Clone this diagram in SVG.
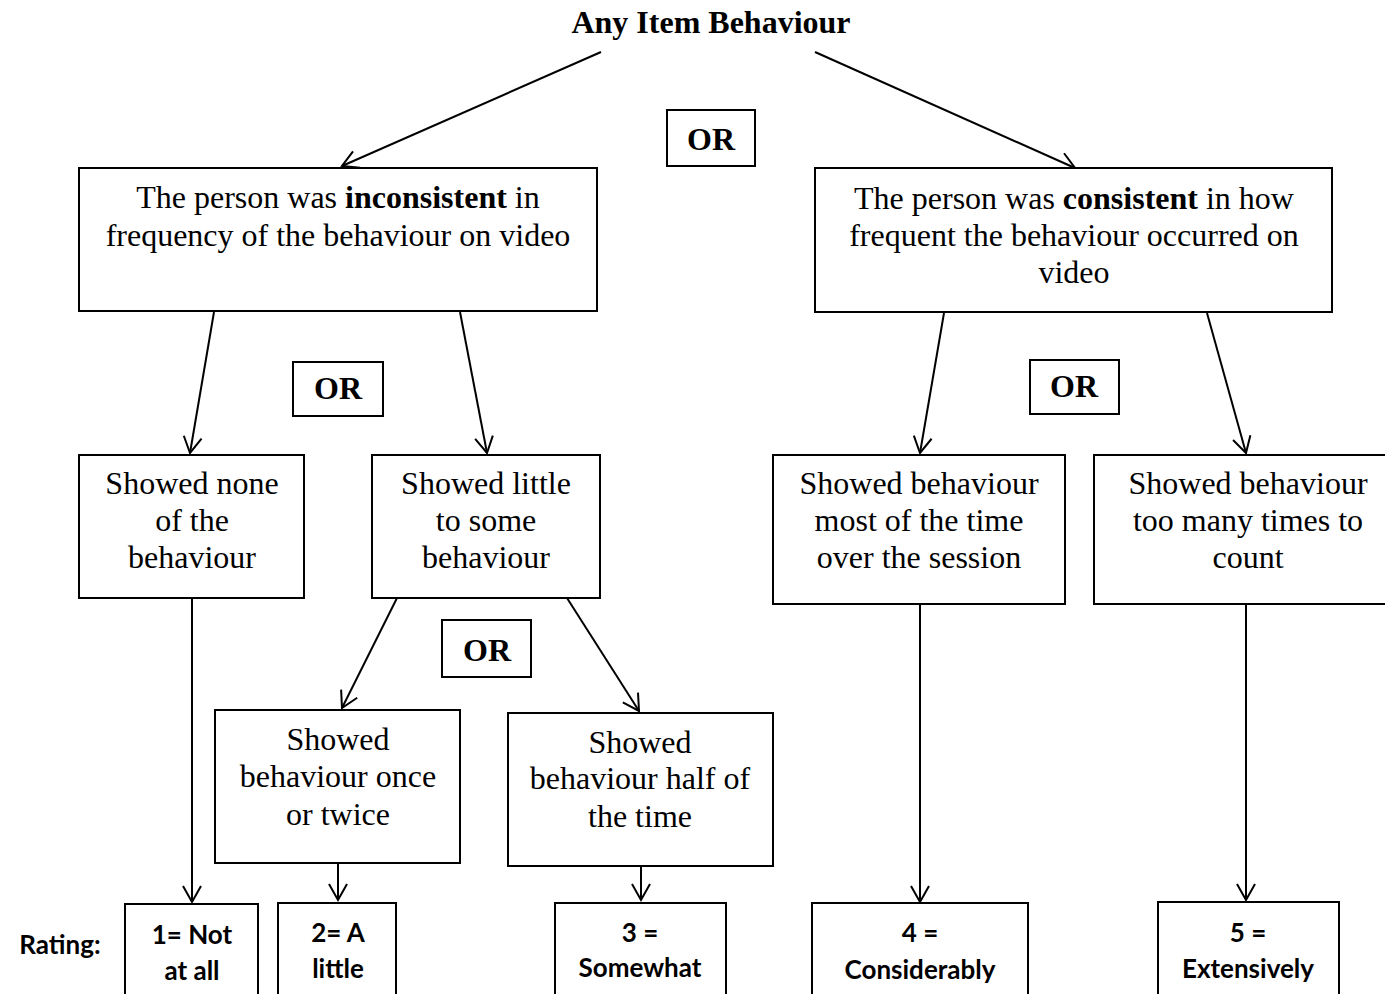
<svg xmlns="http://www.w3.org/2000/svg" width="1385" height="994" viewBox="0 0 1385 994">
  <style>
    .box { fill: #fff; stroke: #000; stroke-width: 2; }
    .t { font-family: "Liberation Serif", "Times New Roman", serif; font-size: 32px; fill: #000; text-anchor: middle; }
    .b { font-weight: bold; }
    .r { font-family: Lato, "Liberation Sans", sans-serif; font-weight: bold; font-size: 26px; fill: #000; text-anchor: middle; }
    .edge { stroke: #000; stroke-width: 2; fill: none; marker-end: url(#arrow); }
  </style>
  <defs>
    <marker id="arrow" markerUnits="userSpaceOnUse" markerWidth="40" markerHeight="40" refX="0" refY="0" viewBox="-20 -20 40 40" orient="auto">
      <path d="M-16,-9 L0,0 L-16,9" fill="none" stroke="#000" stroke-width="2"/>
    </marker>
  </defs>

  <rect width="1385" height="994" fill="#fff"/>

  <g id="connectors">
    <line class="edge" x1="601" y1="52" x2="342" y2="166"/>
    <line class="edge" x1="815" y1="52" x2="1075" y2="168"/>
    <line class="edge" x1="214" y1="312" x2="190" y2="453"/>
    <line class="edge" x1="460" y1="312" x2="487" y2="453"/>
    <line class="edge" x1="944" y1="313" x2="920" y2="453"/>
    <line class="edge" x1="1207" y1="313" x2="1246" y2="453"/>
    <line class="edge" x1="397" y1="598" x2="342" y2="708"/>
    <line class="edge" x1="567" y1="598" x2="639" y2="711"/>
    <line class="edge" x1="192" y1="598" x2="192" y2="902"/>
    <line class="edge" x1="338" y1="863" x2="338" y2="900"/>
    <line class="edge" x1="641" y1="866" x2="641" y2="900"/>
    <line class="edge" x1="920" y1="604" x2="920" y2="902"/>
    <line class="edge" x1="1246" y1="604" x2="1246" y2="900"/>
  </g>

  <g id="title">
    <text class="t b" x="711" y="33">Any Item Behaviour</text>
  </g>

  <g id="or-top">
    <rect class="box" x="667" y="110" width="88" height="56"/>
    <text class="t b" x="711" y="150">OR</text>
  </g>

  <g id="inconsistent">
    <rect class="box" x="79" y="168" width="518" height="143"/>
    <text class="t" x="338" y="208">The person was <tspan class="b">inconsistent</tspan> in</text>
    <text class="t" x="338" y="246">frequency of the behaviour on video</text>
  </g>

  <g id="consistent">
    <rect class="box" x="815" y="168" width="517" height="144"/>
    <text class="t" x="1074" y="209">The person was <tspan class="b">consistent</tspan> in how</text>
    <text class="t" x="1074" y="246">frequent the behaviour occurred on</text>
    <text class="t" x="1074" y="283">video</text>
  </g>

  <g id="or-left">
    <rect class="box" x="293" y="362" width="90" height="54"/>
    <text class="t b" x="338" y="399">OR</text>
  </g>

  <g id="or-right">
    <rect class="box" x="1030" y="360" width="89" height="54"/>
    <text class="t b" x="1074" y="397">OR</text>
  </g>

  <g id="none">
    <rect class="box" x="79" y="455" width="225" height="143"/>
    <text class="t" x="192" y="494">Showed none</text>
    <text class="t" x="192" y="531">of the</text>
    <text class="t" x="192" y="568">behaviour</text>
  </g>

  <g id="little-some">
    <rect class="box" x="372" y="455" width="228" height="143"/>
    <text class="t" x="486" y="494">Showed little</text>
    <text class="t" x="486" y="531">to some</text>
    <text class="t" x="486" y="568">behaviour</text>
  </g>

  <g id="most">
    <rect class="box" x="773" y="455" width="292" height="149"/>
    <text class="t" x="919" y="494">Showed behaviour</text>
    <text class="t" x="919" y="531">most of the time</text>
    <text class="t" x="919" y="568">over the session</text>
  </g>

  <g id="too-many">
    <rect class="box" x="1094" y="455" width="300" height="149"/>
    <text class="t" x="1248" y="494">Showed behaviour</text>
    <text class="t" x="1248" y="531">too many times to</text>
    <text class="t" x="1248" y="568">count</text>
  </g>

  <g id="or-mid">
    <rect class="box" x="442" y="620" width="89" height="57"/>
    <text class="t b" x="487" y="661">OR</text>
  </g>

  <g id="once-twice">
    <rect class="box" x="215" y="710" width="245" height="153"/>
    <text class="t" x="338" y="750">Showed</text>
    <text class="t" x="338" y="787">behaviour once</text>
    <text class="t" x="338" y="825">or twice</text>
  </g>

  <g id="half">
    <rect class="box" x="508" y="713" width="265" height="153"/>
    <text class="t" x="640" y="753">Showed</text>
    <text class="t" x="640" y="789">behaviour half of</text>
    <text class="t" x="640" y="827">the time</text>
  </g>

  <g id="rating-label">
    <text class="r" x="60" y="954">Rating:</text>
  </g>

  <g id="rating-1">
    <rect class="box" x="125" y="904" width="133" height="100"/>
    <text class="r" x="192" y="944">1= Not</text>
    <text class="r" x="192" y="980">at all</text>
  </g>

  <g id="rating-2">
    <rect class="box" x="278" y="903" width="118" height="100"/>
    <text class="r" x="338" y="942">2= A</text>
    <text class="r" x="338" y="978">little</text>
  </g>

  <g id="rating-3">
    <rect class="box" x="555" y="903" width="171" height="100"/>
    <text class="r" x="640" y="942">3 =</text>
    <text class="r" x="640" y="977">Somewhat</text>
  </g>

  <g id="rating-4">
    <rect class="box" x="812" y="903" width="216" height="100"/>
    <text class="r" x="920" y="942">4 =</text>
    <text class="r" x="920" y="979">Considerably</text>
  </g>

  <g id="rating-5">
    <rect class="box" x="1158" y="902" width="181" height="100"/>
    <text class="r" x="1248" y="942">5 =</text>
    <text class="r" x="1248" y="978">Extensively</text>
  </g>
</svg>
